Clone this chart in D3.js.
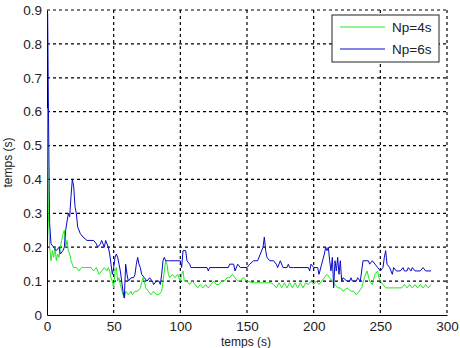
<!DOCTYPE html>
<html>
<head>
<meta charset="utf-8">
<script src="https://cdn.jsdelivr.net/npm/d3@7"></script>
<style>
  body { margin: 0; background: #fff; }
  svg text { font-family: "Liberation Sans", Arial, sans-serif; fill: #222; }
  .grid line { stroke: #000; stroke-dasharray: 3,3; stroke-width: 1.2; }
  .line { fill: none; stroke-width: 1; stroke-linejoin: round; }
</style>
</head>
<body>
<script>
// Np=4s series (time in s, value in s)
const tGreen = [0.5, 0.7, 1, 2, 3, 4, 5, 6, 7, 8, 9, 10, 11, 12, 13, 14, 15, 16, 17, 18, 19, 20, 22, 24, 26, 28, 30, 33, 35, 37, 39, 41, 43, 45, 46, 47, 48, 49, 50, 51, 52, 53, 54, 55, 57, 58, 59, 61, 63, 64, 66, 68, 70, 72, 73, 74, 76, 78, 80, 82, 84, 86, 87, 88, 89, 90, 91, 92, 94, 96, 98, 100, 101, 102, 103, 105, 107, 109, 111, 113, 115, 117, 119, 121, 123, 125, 127, 129, 131, 133, 135, 137, 139, 141, 143, 145, 147, 150, 155, 160, 165, 168, 170, 172, 174, 176, 178, 180, 182, 184, 186, 188, 190, 192, 194, 196, 198, 200, 202, 204, 206, 208, 210, 212, 214, 216, 218, 220, 222, 225, 228, 230, 232, 234, 236, 238, 240, 242, 244, 246, 248, 249, 250, 252, 254, 256, 258, 260, 264, 266, 268, 270, 272, 274, 276, 278, 280, 282, 284, 286, 288];
const vGreen = [0.61, 0.44, 0.3, 0.2, 0.16, 0.19, 0.17, 0.2, 0.16, 0.18, 0.17, 0.2, 0.22, 0.24, 0.25, 0.2, 0.22, 0.19, 0.18, 0.16, 0.15, 0.14, 0.14, 0.13, 0.14, 0.14, 0.14, 0.14, 0.13, 0.14, 0.12, 0.13, 0.14, 0.13, 0.14, 0.13, 0.11, 0.1, 0.08, 0.13, 0.14, 0.1, 0.11, 0.09, 0.06, 0.05, 0.07, 0.06, 0.07, 0.06, 0.07, 0.07, 0.08, 0.11, 0.1, 0.08, 0.07, 0.06, 0.07, 0.06, 0.06, 0.07, 0.1, 0.13, 0.16, 0.15, 0.12, 0.11, 0.12, 0.11, 0.12, 0.1, 0.12, 0.13, 0.1, 0.1, 0.09, 0.1, 0.09, 0.08, 0.09, 0.08, 0.09, 0.08, 0.09, 0.1, 0.09, 0.09, 0.1, 0.1, 0.11, 0.11, 0.12, 0.11, 0.1, 0.1, 0.11, 0.1, 0.095, 0.095, 0.095, 0.095, 0.09, 0.08, 0.095, 0.08, 0.095, 0.08, 0.095, 0.08, 0.095, 0.08, 0.095, 0.08, 0.095, 0.09, 0.1, 0.09, 0.1, 0.09, 0.1, 0.11, 0.12, 0.11, 0.1, 0.09, 0.08, 0.08, 0.07, 0.08, 0.07, 0.07, 0.06, 0.07, 0.08, 0.11, 0.13, 0.1, 0.09, 0.12, 0.13, 0.11, 0.1, 0.09, 0.08, 0.08, 0.08, 0.08, 0.08, 0.08, 0.09, 0.08, 0.09, 0.08, 0.09, 0.08, 0.09, 0.08, 0.09, 0.08, 0.09, 0.08];

// Np=6s series
const tBlue = [0.5, 1, 1.7, 2, 3, 5, 7, 9, 10, 12, 13, 14, 16, 17, 18, 19, 20, 21, 22, 23, 25, 27, 30, 35, 37, 38, 40, 41, 43, 44, 46, 47, 48, 49, 50, 51, 52, 53, 54, 55, 56, 57, 58, 59, 60, 61, 63, 65, 66, 67, 68, 69, 70, 71, 73, 75, 77, 79, 80, 82, 84, 85, 86, 87, 88, 89, 91, 100, 101, 102, 104, 105, 107, 108, 110, 120, 121, 122, 136, 137, 140, 141, 143, 145, 150, 152, 155, 158, 160, 162, 163, 164, 165, 167, 170, 172, 173, 175, 177, 180, 181, 182, 185, 196, 197, 198, 200, 203, 204, 206, 208, 209, 210, 211, 212, 213, 214, 215, 216, 217, 218, 219, 220, 221, 222, 225, 227, 228, 229, 232, 233, 235, 236, 237, 240, 241, 242, 244, 246, 248, 250, 252, 253, 254, 255, 257, 259, 260, 262, 265, 267, 268, 270, 271, 273, 274, 276, 280, 282, 284, 288];
const vBlue = [0.89, 0.64, 0.36, 0.27, 0.21, 0.2, 0.19, 0.2, 0.18, 0.19, 0.2, 0.25, 0.3, 0.29, 0.35, 0.4, 0.38, 0.32, 0.3, 0.26, 0.24, 0.23, 0.22, 0.22, 0.21, 0.2, 0.21, 0.22, 0.2, 0.22, 0.2, 0.18, 0.15, 0.12, 0.14, 0.17, 0.18, 0.17, 0.15, 0.13, 0.1, 0.07, 0.05, 0.15, 0.12, 0.1, 0.11, 0.11, 0.12, 0.15, 0.17, 0.15, 0.14, 0.12, 0.11, 0.1, 0.11, 0.1, 0.09, 0.1, 0.1, 0.09, 0.12, 0.16, 0.17, 0.16, 0.16, 0.16, 0.14, 0.19, 0.19, 0.16, 0.15, 0.14, 0.14, 0.14, 0.13, 0.14, 0.14, 0.15, 0.15, 0.13, 0.15, 0.14, 0.14, 0.15, 0.16, 0.16, 0.18, 0.2, 0.23, 0.19, 0.17, 0.16, 0.16, 0.15, 0.14, 0.16, 0.14, 0.14, 0.15, 0.14, 0.14, 0.14, 0.13, 0.15, 0.14, 0.14, 0.12, 0.15, 0.18, 0.2, 0.19, 0.2, 0.16, 0.13, 0.17, 0.08, 0.16, 0.13, 0.17, 0.12, 0.16, 0.1, 0.11, 0.1, 0.1, 0.11, 0.1, 0.1, 0.11, 0.1, 0.13, 0.16, 0.16, 0.16, 0.15, 0.16, 0.15, 0.14, 0.13, 0.14, 0.17, 0.19, 0.15, 0.14, 0.12, 0.14, 0.13, 0.13, 0.14, 0.13, 0.13, 0.14, 0.13, 0.14, 0.13, 0.13, 0.14, 0.13, 0.13];

const xTicks = [0, 50, 100, 150, 200, 250, 300];
const yTicks = [0, 0.1, 0.2, 0.3, 0.4, 0.5, 0.6, 0.7, 0.8, 0.9];
const seriesNames = ["Np=4s", "Np=6s"];
const seriesColors = ["#22e622", "#0808c8"];

const margin = { top: 10, right: 13, bottom: 33, left: 47 };
const width = 460 - margin.left - margin.right;
const height = 348 - margin.top - margin.bottom;

const svg = d3.select("body").append("svg")
    .attr("width", 460)
    .attr("height", 348);

const g = svg.append("g")
    .attr("transform", "translate(" + margin.left + "," + margin.top + ")");

const x = d3.scaleLinear().domain([0, 300]).range([0, width]);
const y = d3.scaleLinear().domain([0, 0.9]).range([height, 0]);

// dashed grid
g.append("g").attr("class", "grid")
    .selectAll("line").data(xTicks.slice(1)).enter().append("line")
    .attr("x1", d => x(d)).attr("x2", d => x(d))
    .attr("y1", 0).attr("y2", height);
g.append("g").attr("class", "grid")
    .selectAll("line").data(yTicks.slice(1)).enter().append("line")
    .attr("x1", 0).attr("x2", width)
    .attr("y1", d => y(d)).attr("y2", d => y(d));

// axes
const xAxis = g.append("g")
    .attr("transform", "translate(0," + height + ")")
    .call(d3.axisBottom(x).tickValues(xTicks).tickSize(0).tickPadding(6));
const yAxis = g.append("g")
    .call(d3.axisLeft(y).tickValues(yTicks).tickSize(0).tickPadding(5).tickFormat(d => d === 0 ? "0" : d3.format(".1f")(d)));
[xAxis, yAxis].forEach(a => {
  a.select(".domain").attr("stroke", "#000");
  a.selectAll("text").style("font-size", "13.5px").attr("fill", "#222");
});

// lines
const line = d3.line().x(d => x(d[0])).y(d => y(d[1]));
const data = [d3.zip(tGreen, vGreen), d3.zip(tBlue, vBlue)];
data.forEach((d, i) => {
  g.append("path").datum(d)
      .attr("class", "line")
      .attr("stroke", seriesColors[i])
      .attr("d", line);
});

// axis labels
svg.append("text")
    .attr("x", margin.left + width / 2 - 1)
    .attr("y", 346)
    .attr("text-anchor", "middle")
    .style("font-size", "12px")
    .text("temps (s)");
svg.append("text")
    .attr("transform", "translate(12," + (margin.top + height / 2) + ") rotate(-90)")
    .attr("text-anchor", "middle")
    .style("font-size", "12px")
    .text("temps (s)");

// legend
const legend = svg.append("g").attr("transform", "translate(332,15)");
legend.append("rect")
    .attr("width", 107).attr("height", 47)
    .attr("fill", "#fff").attr("stroke", "#222");
seriesNames.forEach((name, i) => {
  const ly = 12 + i * 22;
  legend.append("line")
      .attr("x1", 8).attr("x2", 53)
      .attr("y1", ly).attr("y2", ly)
      .attr("stroke", seriesColors[i]).attr("stroke-width", 1);
  legend.append("text")
      .attr("x", 60).attr("y", ly + 5)
      .style("font-size", "13.5px")
      .text(name);
});
</script>
</body>
</html>
